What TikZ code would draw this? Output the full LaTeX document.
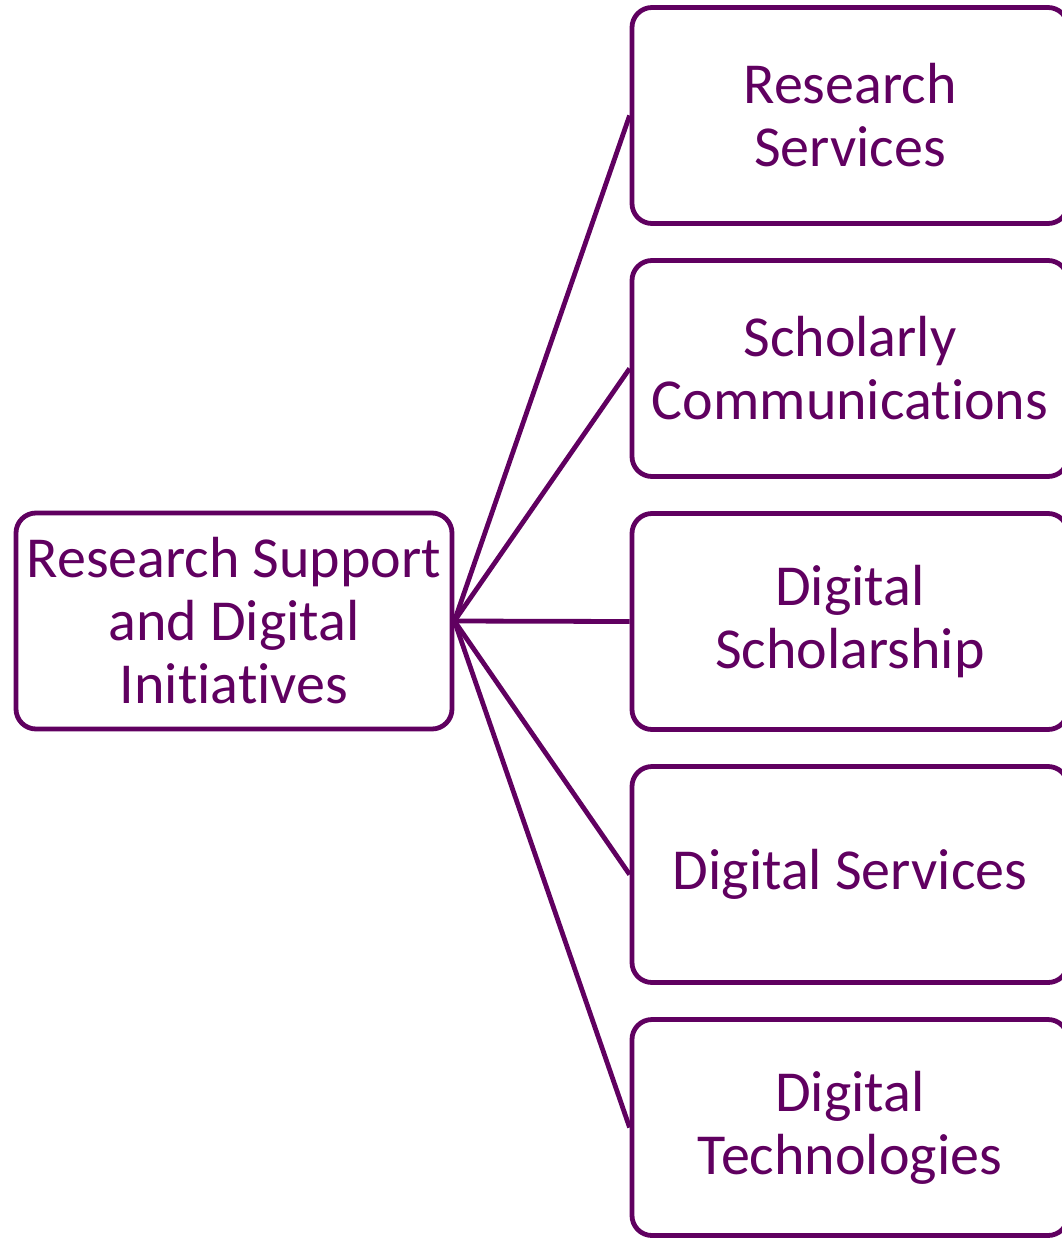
\documentclass[tikz,border=0pt]{standalone}
\usepackage{fontspec}
\setmainfont{Carlito}[Ligatures={NoCommon}]
\usetikzlibrary{positioning}
\definecolor{plum}{RGB}{96,0,96}

\begin{document}
\begin{tikzpicture}[x=0.5pt,y=-0.5pt,line width=2.4pt,draw=plum]

    \tikzstyle{every node}=[draw=plum,text=plum,rounded corners=10pt,minimum width=218pt,minimum height=108pt,align=center,font=\fontsize{29}{31.5}\selectfont]

    \useasboundingbox (0,0) rectangle (1061,1243);

    \node (rsdi) at (234,621)    {Research Support\\and Digital\\Initiatives};
    \node (rs)   at (850,115.5)  {Research\\Services};
    \node (sc)   at (850,368.5)  {Scholarly\\Communications};
    \node (ds)   at (850,621.5)  {Digital\\Scholarship};
    \node (dsv)  at (850,874.5)  {Digital Services};
    \node (dt)   at (850,1127.5) {Digital\\Technologies};

    \path[draw=plum] (rsdi.east) edge (rs.west)
                                 edge (sc.west)
                                 edge (ds.west)
                                 edge (dsv.west)
                                 edge (dt.west)
    ;
\end{tikzpicture}
\end{document}
